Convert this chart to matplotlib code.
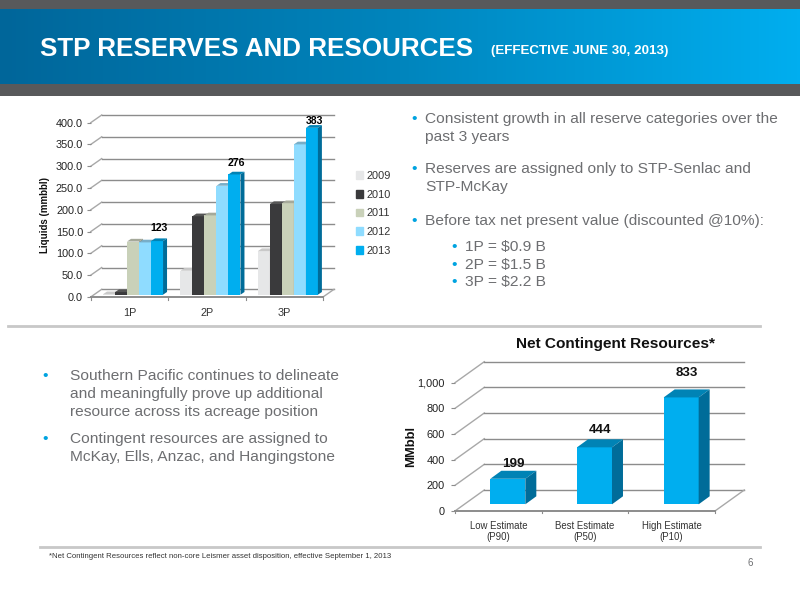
import numpy as np
import matplotlib
matplotlib.use('Agg')
import matplotlib.pyplot as plt
from matplotlib.colors import LinearSegmentedColormap
from matplotlib.patches import Polygon, Patch

plt.rcParams['font.family'] = ['Liberation Sans', 'DejaVu Sans']

# reserves chart
reserve_cats = ['1P', '2P', '3P']
reserve_years = ['2009', '2010', '2011', '2012', '2013']
reserves_2009 = [1, 55, 100]
reserves_2010 = [6, 180, 208]
reserves_2011 = [122, 182, 210]
reserves_2012 = [120, 250, 345]
reserves_2013 = [123, 276, 383]
reserve_ticks = [0, 50, 100, 150, 200, 250, 300, 350, 400]
reserve_labels = ['123', '276', '383']

# contingent chart
contingent_cats = ['Low Estimate\n(P90)', 'Best Estimate\n(P50)', 'High Estimate\n(P10)']
contingent_vals = [199, 444, 833]
contingent_ticks = [0, 200, 400, 600, 800, 1000]

GRAY = '#6d6e71'
BLUE = '#00a3e0'
GRID = '#8c8c8c'
DIAG = '#a8a8a8'
W, H = 800, 600

fig = plt.figure(figsize=(8, 6), dpi=100, facecolor='white')


def AxesPx(left, top, right, bottom):
    return fig.add_axes([left / W, 1 - bottom / H, (right - left) / W, (bottom - top) / H])


def Walls(ax, ticks, dx, dy):
    # back wall grid, side wall and floor of the fake 3D box
    xmax = ax.get_xlim()[1]
    for t in ticks:
        ax.plot([0, dx], [t, t + dy], color=DIAG, lw=1.0, clip_on=False, zorder=1)
        ax.plot([dx, xmax + dx], [t + dy, t + dy], color=GRID, lw=1.0, clip_on=False, zorder=1)
    ax.plot([xmax, xmax + dx], [0, dy], color=DIAG, lw=1.0, clip_on=False, zorder=1)
    ax.plot([0, xmax], [0, 0], color=GRID, lw=1.4, clip_on=False, zorder=2)


def Bar3D(ax, x, w, val, color, top_color, side_color, base, dx, dy, z):
    x1 = x + w
    y0, y1 = base, base + val
    ax.bar(x, val, width=w, bottom=base, align='edge', color=color, lw=0, zorder=z, clip_on=False)
    ax.add_patch(Polygon([(x, y1), (x1, y1), (x1 + dx, y1 + dy), (x + dx, y1 + dy)],
                         fc=top_color, lw=0, zorder=z, clip_on=False))
    ax.add_patch(Polygon([(x1, y0), (x1 + dx, y0 + dy), (x1 + dx, y1 + dy), (x1, y1)],
                         fc=side_color, lw=0, zorder=z, clip_on=False))


def Finish(ax, ticks, fmt, tick_size, cat_size, cats, xpad, ypad):
    ax.set_xticks(np.arange(len(cats)) + 0.5)
    ax.set_xticklabels(cats, fontsize=cat_size, color='#333333', linespacing=1.2)
    ax.set_yticks(ticks)
    ax.set_yticklabels([fmt.format(t) for t in ticks], fontsize=tick_size, color='#222222')
    ax.tick_params(axis='x', length=0, pad=xpad)
    ax.tick_params(axis='y', length=3, width=0.8, color=GRID, pad=ypad)
    for s in ax.spines.values():
        s.set_visible(False)
    ax.patch.set_alpha(0)
    for k in range(len(cats) + 1):
        ax.plot([k, k], [0, -ticks[-1] * 0.018], color=GRID, lw=0.8, clip_on=False)


# page background pieces
bg = fig.add_axes([0, 0, 1, 1])
bg.axis('off')
cmap = LinearSegmentedColormap.from_list('hdr', ['#00669a', '#0085bd', '#00aeef'])
bg.imshow(np.linspace(0, 1, 256).reshape(1, -1), cmap=cmap, extent=[0, W, 84, 9], aspect='auto')
bg.set_xlim(0, W)
bg.set_ylim(H, 0)
bg.fill_between([0, W], 0, 9, color='#58595b', lw=0)
bg.fill_between([0, W], 84, 96, color='#58595b', lw=0)
bg.plot([8, 760], [325.5, 325.5], color='#c8c8c8', lw=2)
bg.plot([40, 760], [546.5, 546.5], color='#c8c8c8', lw=2)

bg.text(40, 48.5, 'STP RESERVES AND RESOURCES', color='white', fontsize=18.7, fontweight='bold', va='center')
bg.text(491, 51, '(EFFECTIVE JUNE 30, 2013)', color='white', fontsize=9.6, fontweight='bold', va='center')


def Bullet(x, y, text, size=11.15, tx=14):
    bg.text(x, y, '\u2022', color=BLUE, fontsize=size, va='center')
    bg.text(x + tx, y, text.split('\n')[0], color=GRAY, fontsize=size, va='center')
    for n, line in enumerate(text.split('\n')[1:]):
        bg.text(x + tx, y + 17.8 * (n + 1), line, color=GRAY, fontsize=size, va='center')


Bullet(411, 119, 'Consistent growth in all reserve categories over the\npast 3 years')
Bullet(411, 169, 'Reserves are assigned only to STP-Senlac and\nSTP-McKay')
Bullet(411, 221, 'Before tax net present value (discounted @10%):')
Bullet(451, 247, '1P = $0.9 B')
Bullet(451, 265, '2P = $1.5 B')
Bullet(451, 282, '3P = $2.2 B')
Bullet(42, 376, 'Southern Pacific continues to delineate\nand meaningfully prove up additional\nresource across its acreage position', tx=28)
Bullet(42, 439, 'Contingent resources are assigned to\nMcKay, Ells, Anzac, and Hangingstone', tx=28)
bg.text(49, 556, '*Net Contingent Resources reflect non-core Leismer asset disposition, effective September 1, 2013',
        color='#333333', fontsize=5.6, va='center')
bg.text(748, 563, '6', color=GRAY, fontsize=7, va='center')

# left chart
ax1 = AxesPx(90.7, 122.7, 323, 297)
ax1.set_xlim(0, 3)
ax1.set_ylim(0, 400)
Walls(ax1, reserve_ticks, 11 / 77.4, 7.7 * 400 / 174.3)
series = [reserves_2009, reserves_2010, reserves_2011, reserves_2012, reserves_2013]
colors = ['#e6e7e8', '#3a3a3c', '#c9d1b9', '#8fdcff', '#00aeef']
tops = ['#c9c9c9', '#555555', '#a5a99a', '#78aec8', '#0083b5']
sides = ['#b5b5b5', '#222222', '#8d9080', '#5f9ab5', '#006c99']
bw = 12.0 / 77.4
label_dy = [36, 32, 22]
for i in range(3):
    for j, vals in enumerate(series):
        x = i + 0.5 + (j - 2.5) * bw + 3.6 / 77.4
        Bar3D(ax1, x, bw, vals[i], colors[j], tops[j], sides[j], 2.3 * 400 / 174.3,
              4.0 / 77.4, 2.7 * 400 / 174.3, 3 + i + j * 0.1)
    ax1.text(i + 0.5 + 2.2 * bw + 3.6 / 77.4, reserves_2013[i] + label_dy[i], reserve_labels[i], ha='center', va='center',
             fontsize=7.6, fontweight='bold', color='black', zorder=10)
Finish(ax1, reserve_ticks, '{:.1f}', 7.8, 7.8, reserve_cats, 8, 2.5)
ax1.set_ylabel('Liquids (mmbbl)', fontsize=7, fontweight='bold', color='#111111', labelpad=4, y=0.47)
ax1.legend(handles=[Patch(color=c, label=y) for c, y in zip(colors, reserve_years)],
           loc='center left', bbox_to_anchor=(1.098, 0.48), frameon=False, fontsize=7.9,
           handlelength=0.7, handleheight=0.7, handletextpad=0.3, labelspacing=0.8, labelcolor='#333333')

# right chart
ax2 = AxesPx(455, 382.7, 715, 511)
ax2.set_xlim(0, 3)
ax2.set_ylim(0, 1000)
Walls(ax2, contingent_ticks, 29.3 / 86.7, 21 * 1000 / 128.3)
bw2 = 35.0 / 86.7
label_dy2 = [165, 190, 245]
for i, v in enumerate(contingent_vals):
    x = i + 0.5 - bw2 / 2 + 9.5 / 86.7
    Bar3D(ax2, x, bw2, v, '#00aeef', '#0083b5', '#006c99', 6.7 * 1000 / 128.3,
          11 / 86.7, 8 * 1000 / 128.3, 3 + i)
    ax2.text(x + bw2 / 2 + 6 / 86.7, v + label_dy2[i], str(v), ha='center', va='center', fontsize=9.6,
             fontweight='bold', color='#111111', zorder=10)
Finish(ax2, contingent_ticks, '{:,}', 7.9, 6.9, contingent_cats, 7, 4.5)
ax2.set_ylabel('MMbbl', fontsize=9.4, fontweight='bold', color='#111111', labelpad=0)
bg.text(616, 344, 'Net Contingent Resources*', ha='center', va='center', fontsize=11.1, fontweight='bold', color='#111111')

fig.savefig('out.png', dpi=100)
